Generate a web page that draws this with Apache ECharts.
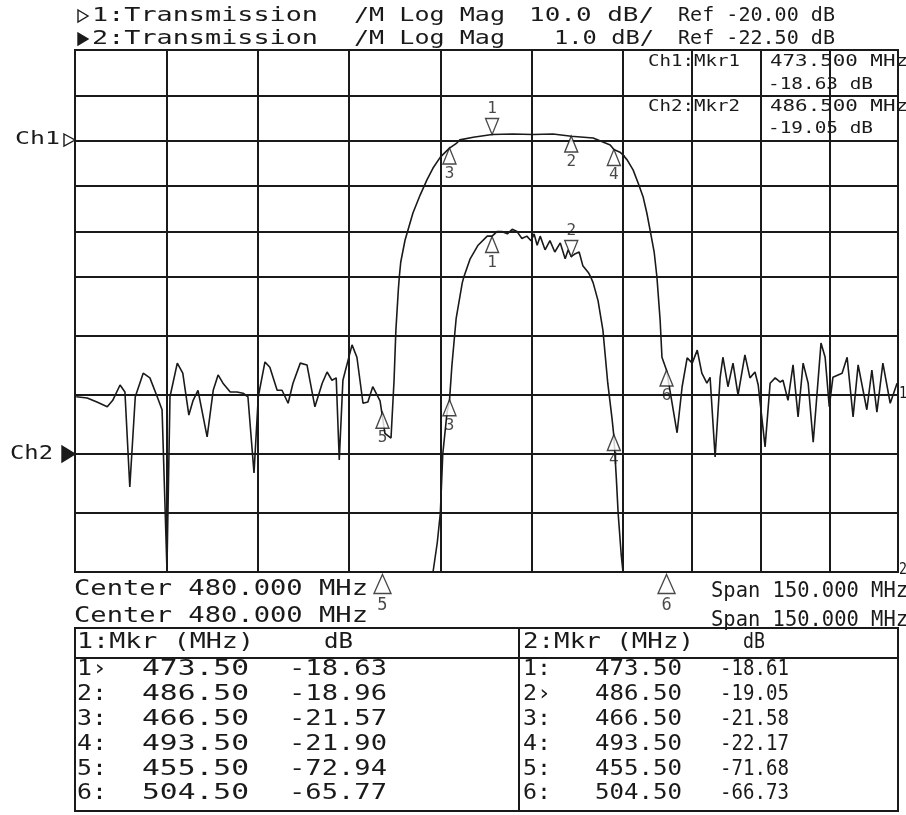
<!DOCTYPE html>
<html>
<head>
<meta charset="utf-8">
<script src="https://cdn.jsdelivr.net/npm/echarts@6/dist/echarts.min.js"></script>
<style>
  html, body { margin: 0; background: #fff; }
  #chart { width: 906px; height: 815px; }
</style>
</head>
<body>
<div id="chart"></div>
<script>
// Ch1 trace: Transmission, 10 dB/div, ref -20 dB  (MHz / dB)
const ch1Freq = [405.2, 407.0, 408.6, 410.3, 411.2, 412.4, 413.2, 414.0, 414.9, 416.2,
  417.3, 418.5, 419.3, 420.1, 420.6, 421.8, 422.7, 423.7, 424.4, 425.2,
  426.7, 427.7, 428.5, 429.3, 430.5, 431.6, 432.6, 433.4, 434.4, 435.1,
  436.2, 437.0, 438.2, 439.0, 440.0, 440.8, 442.0, 443.1, 444.4, 445.6,
  446.4, 447.2, 447.9, 448.4, 449.0, 450.5, 451.3, 452.3, 453.1, 453.9,
  455.1, 455.9, 456.9, 457.4, 457.7, 458.1, 458.5, 459.2, 460.5, 461.7,
  462.8, 463.8, 465.0, 466.5, 467.7, 468.2, 470.4, 473.5, 476.9, 480.2,
  483.5, 486.5, 490.1, 492.9, 493.5, 494.5, 495.9, 497.2, 498.3, 499.4,
  500.2, 500.9, 501.8, 502.4, 503.1, 503.5, 504.5, 506.8, 507.9, 509.0,
  510.1, 511.2, 512.2, 513.3, 514.0, 515.1, 516.2, 516.8, 517.9, 519.0,
  520.1, 521.6, 522.7, 523.8, 524.5, 526.0, 527.1, 528.2, 529.3, 529.9,
  531.0, 532.1, 533.2, 534.3, 535.4, 536.5, 538.2, 539.1, 540.0, 540.8,
  542.8, 543.9, 545.2, 546.3, 548.2, 549.3, 550.4, 551.7, 553.3, 554.8];
const ch1Db = [-70.3, -70.5, -71.2, -72.0, -70.9, -68.3, -69.5, -85.6, -70.3, -66.3,
  -67.1, -70.3, -72.5, -99.5, -70.3, -64.6, -66.3, -73.4, -70.9, -69.2,
  -77.1, -69.2, -66.6, -68.0, -69.5, -69.5, -69.7, -70.3, -83.2, -70.3,
  -64.4, -65.3, -69.2, -69.2, -71.4, -68.0, -64.6, -64.9, -72.0, -68.0,
  -66.1, -67.5, -67.1, -81.0, -67.5, -61.5, -63.6, -71.4, -71.2, -68.6,
  -71.0, -76.5, -77.3, -67.5, -59.0, -52.2, -46.7, -41.9, -35.9, -31.9,
  -28.6, -26.0, -23.6, -21.6, -20.5, -19.8, -19.2, -18.6, -18.5, -18.6,
  -18.5, -19.0, -19.4, -20.9, -21.9, -22.5, -24.2, -26.4, -29.3, -32.4,
  -35.9, -39.6, -44.5, -50.0, -57.3, -63.6, -65.8, -76.4, -68.6, -63.7,
  -64.6, -62.4, -66.3, -68.0, -67.0, -80.5, -67.0, -63.6, -68.6, -64.6,
  -70.0, -63.2, -67.1, -66.1, -68.3, -78.8, -68.0, -67.1, -67.8, -67.5,
  -70.9, -64.9, -73.7, -64.6, -68.0, -78.0, -61.2, -63.6, -72.0, -67.0,
  -66.3, -63.6, -73.7, -64.9, -72.5, -65.8, -72.9, -64.6, -71.4, -68.0];

// Ch2 trace: same transmission, 1 dB/div, ref -22.5 dB (pegged at bottom outside passband)
const ch2Freq = [405.0, 463.8, 464.5, 465.0, 465.4, 466.1, 466.5, 466.9, 467.6, 468.6,
  469.9, 471.2, 472.7, 473.5, 474.3, 475.1, 476.0, 476.8, 477.6, 478.4,
  479.2, 479.9, 480.4, 480.9, 481.4, 482.2, 483.0, 483.8, 484.7, 485.5,
  486.0, 486.5, 487.0, 487.8, 488.4, 489.3, 490.1, 490.9, 491.7, 492.5,
  493.2, 493.5, 493.9, 494.2, 494.7, 495.0, 555.0];
const ch2Db = [-24.5, -24.5, -24.0, -23.5, -22.5, -21.8, -21.6, -21.0, -20.2, -19.6,
  -19.1, -18.8, -18.6, -18.6, -18.5, -18.5, -18.55, -18.45, -18.5, -18.65,
  -18.6, -18.7, -18.55, -18.8, -18.6, -18.9, -18.7, -18.95, -18.75, -19.1,
  -18.9, -19.05, -19.0, -18.95, -19.25, -19.4, -19.6, -19.9, -20.4, -21.3,
  -21.9, -22.2, -22.9, -23.5, -24.2, -24.5, -24.5];

// markers 1..6
const markerFreq = [473.5, 486.5, 466.5, 493.5, 455.5, 504.5];
const ch1MkrDb = [-18.63, -18.96, -21.57, -21.90, -72.94, -65.77];
const ch2MkrDb = [-18.61, -19.05, -21.58, -22.17, -71.68, -66.73];
const ch1Active = 0;
const ch2Active = 1;

const ink = '#1a1a1a';
const mono = 'DejaVu Sans Mono';

// the scan is stretched unevenly, so the screen is split in 4 panes with their own scales
const panes = [
  { left: 75, top: 50, width: 548, height: 227, x: [405, 495], y1: [-50, 0], y2: [-19.5, -14.5] },
  { left: 623, top: 50, width: 275, height: 227, x: [495, 555], y1: [-50, 0], y2: [-19.5, -14.5] },
  { left: 75, top: 277, width: 548, height: 295, x: [405, 495], y1: [-100, -50], y2: [-24.5, -19.5] },
  { left: 623, top: 277, width: 275, height: 295, x: [495, 555], y1: [-100, -50], y2: [-24.5, -19.5] }
];

const trace = (fs, ds, gi, yi) => ({
  type: 'line', xAxisIndex: gi, yAxisIndex: yi,
  data: fs.map((f, k) => [f, ds[k]]),
  symbol: 'none', clip: true, silent: true,
  lineStyle: { color: ink, width: 1.6 }
});

const markers = (dbs, active, p, yr, gi, yi, showOff) => {
  const data = [];
  markerFreq.forEach((f, k) => {
    if (f < p.x[0] || f >= p.x[1]) return;
    let v = dbs[k];
    if (v < yr[0]) {
      if (!showOff) return;
      // off-scale: parked under the frame, a bit bigger
      data.push({
        value: [f, yr[0]],
        symbol: 'path://M7,0L14,16L0,16Z', symbolSize: [17, 19], symbolOffset: [0, 12],
        label: { position: 'bottom', distance: 3, fontSize: 17, formatter: String(k + 1) }
      });
      return;
    }
    if (v > yr[1]) return;
    const down = k === active;
    data.push({
      value: [f, v],
      symbol: down ? 'path://M0,0L14,0L7,16Z' : 'path://M7,0L14,16L0,16Z',
      symbolOffset: [0, down ? -8 : 8],
      label: { position: down ? 'top' : 'bottom', formatter: String(k + 1) }
    });
  });
  return {
    type: 'scatter', xAxisIndex: gi, yAxisIndex: yi, data,
    symbolSize: [13, 16], clip: false, silent: true, z: 5,
    itemStyle: { color: '#fff', borderColor: ink, borderWidth: 1.4 },
    label: { show: true, color: ink, fontSize: 16, fontFamily: mono, distance: 1 }
  };
};

const grid = [], xAxis = [], yAxis = [], series = [];
panes.forEach((p, i) => {
  grid.push({ left: p.left, top: p.top, width: p.width, height: p.height,
    show: true, borderColor: ink, borderWidth: 2, containLabel: false, outerBoundsMode: 'none' });
  xAxis.push({ type: 'value', gridIndex: i, min: p.x[0], max: p.x[1], interval: 15,
    axisLine: { show: false }, axisTick: { show: false }, axisLabel: { show: false },
    splitLine: { show: true, lineStyle: { color: ink, width: 2 } } });
  yAxis.push({ type: 'value', gridIndex: i, min: p.y1[0], max: p.y1[1], interval: 10,
    axisLine: { show: false }, axisTick: { show: false }, axisLabel: { show: false },
    splitLine: { show: true, lineStyle: { color: ink, width: 2 } } });
  yAxis.push({ type: 'value', gridIndex: i, min: p.y2[0], max: p.y2[1], show: false,
    splitLine: { show: false } });
  series.push(trace(ch1Freq, ch1Db, i, 2 * i));
  series.push(trace(ch2Freq, ch2Db, i, 2 * i + 1));
  series.push(markers(ch1MkrDb, ch1Active, p, p.y1, i, 2 * i, false));
  series.push(markers(ch2MkrDb, ch2Active, p, p.y2, i, 2 * i + 1, i >= 2));
});

// text stretched to the width it takes in the scan
const ctx = document.createElement('canvas').getContext('2d');
const txt = (s, x, y, w, size) => {
  ctx.font = size + 'px "' + mono + '"';
  return { type: 'text', x, y, scaleX: w / ctx.measureText(s).width, silent: true,
    style: { text: s, fontSize: size, fontFamily: mono, fill: ink, verticalAlign: 'middle' } };
};
const line = (x1, y1, x2, y2, w) => ({ type: 'line', silent: true,
  shape: { x1, y1, x2, y2 }, style: { stroke: ink, lineWidth: w || 2 } });
const tri = (pts, filled) => ({ type: 'polygon', silent: true, shape: { points: pts },
  style: { fill: filled ? ink : '#fff', stroke: ink, lineWidth: 1.4 } });

const rowY = k => 670 + 24.8 * k;

const g = [
  tri([[78, 10], [88, 16], [78, 22]], false),
  txt('1:Transmission', 92, 16, 226, 19),
  txt('/M Log Mag', 354, 16, 151, 19),
  txt('10.0 dB/', 529, 16, 125, 19),
  txt('Ref -20.00 dB', 678, 16, 157, 19),
  tri([[78, 33], [88, 39], [78, 45]], true),
  txt('2:Transmission', 92, 39, 226, 19),
  txt('/M Log Mag', 354, 39, 151, 19),
  txt('1.0 dB/', 554, 39, 100, 19),
  txt('Ref -22.50 dB', 678, 39, 157, 19),

  txt('Ch1:Mkr1', 648, 62, 92, 16),
  txt(markerFreq[ch1Active].toFixed(3) + ' MHz', 770, 62, 138, 16),
  txt(ch1MkrDb[ch1Active].toFixed(2) + ' dB', 768, 85, 105, 16),
  txt('Ch2:Mkr2', 648, 107, 92, 16),
  txt(markerFreq[ch2Active].toFixed(3) + ' MHz', 770, 107, 138, 16),
  txt(ch2MkrDb[ch2Active].toFixed(2) + ' dB', 768, 129, 105, 16),

  txt('Ch1', 15, 140, 45, 17),
  tri([[64, 134], [75, 140], [64, 146]], false),
  txt('Ch2', 10, 454, 43, 19),
  tri([[62, 446], [75, 454], [62, 462]], true),
  txt('1', 899, 394, 8, 15),
  txt('2', 899, 570, 8, 15),

  txt('Center 480.000 MHz', 74, 590, 294, 21),
  txt('Center 480.000 MHz', 74, 617, 294, 21),
  txt('Span 150.000 MHz', 711, 592, 197, 21),
  txt('Span 150.000 MHz', 711, 621, 197, 21),

  { type: 'rect', silent: true, shape: { x: 75, y: 628, width: 823, height: 183 },
    style: { fill: 'none', stroke: ink, lineWidth: 2 } },
  line(75, 658, 898, 658),
  line(519, 628, 519, 811),
  txt('1:Mkr (MHz)', 77, 643, 177, 21),
  txt('dB', 324, 643, 29, 21),
  txt('2:Mkr (MHz)', 523, 643, 171, 21),
  txt('dB', 743, 643, 22, 21)
];

markerFreq.forEach((f, k) => {
  const y = rowY(k);
  g.push(txt((k + 1) + (k === ch1Active ? '›' : ':'), 77, y, 30, 21));
  g.push(txt(f.toFixed(2), 142, y, 107, 21));
  g.push(txt(ch1MkrDb[k].toFixed(2), 289, y, 98, 21));
  g.push(txt((k + 1) + (k === ch2Active ? '›' : ':'), 523, y, 28, 21));
  g.push(txt(f.toFixed(2), 595, y, 87, 21));
  g.push(txt(ch2MkrDb[k].toFixed(2), 720, y, 69, 21));
});

const chart = echarts.init(document.getElementById('chart'));
chart.setOption({
  animation: false,
  backgroundColor: '#fff',
  grid, xAxis, yAxis, series,
  graphic: g
});

window.addEventListener('resize', () => chart.resize());
</script>
</body>
</html>
